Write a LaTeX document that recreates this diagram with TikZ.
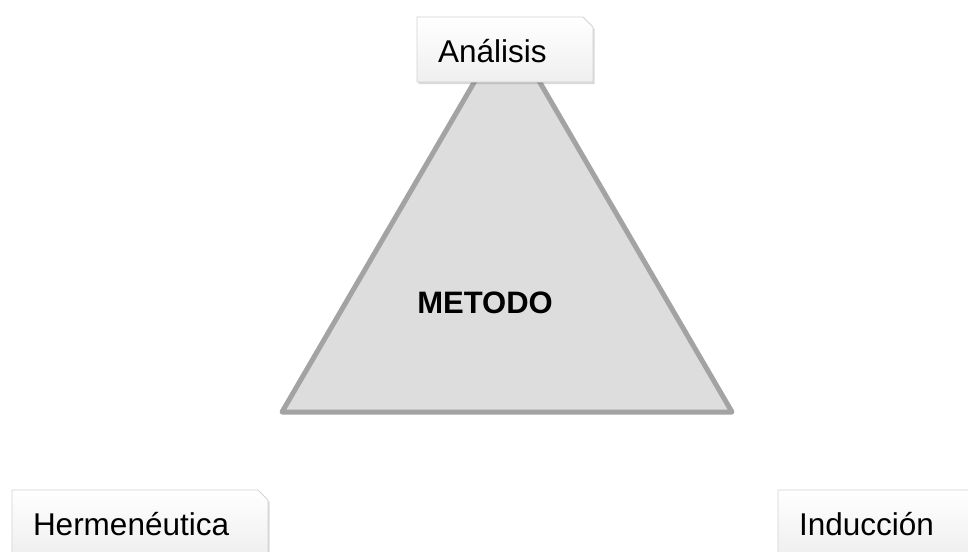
\documentclass[tikz,border=0pt]{standalone}
\usepackage{fontspec}
\setmainfont{Liberation Sans}
\usetikzlibrary{shapes.misc,shadows}
\definecolor{triFill}{HTML}{DDDDDD}
\definecolor{triLine}{HTML}{A3A3A3}
\definecolor{boxLine}{HTML}{D2D2D2}
\definecolor{boxBot}{HTML}{EFEFEF}
\tikzset{
  labelbox/.style={chamfered rectangle, chamfered rectangle corners=north east,
    chamfered rectangle xsep=5pt, chamfered rectangle ysep=5pt,
    draw=boxLine, line width=0.8pt, top color=white, bottom color=boxBot,
    drop shadow={shadow xshift=1.5pt, shadow yshift=-2pt, opacity=0.25, fill=black!60},
    minimum height=65pt, inner ysep=0pt, inner xsep=16pt, align=left,
    text height=26pt, text depth=0pt,
    font=\fontsize{31.5}{36}\selectfont},
  tri/.style={fill=triFill, draw=triLine, line width=5pt, line join=round},
  title/.style={font=\fontsize{31}{36}\selectfont\bfseries, inner sep=0pt, text height=22pt, text depth=0pt}
}
\begin{document}
\begin{tikzpicture}[x=1pt,y=1pt]
\useasboundingbox (0,-551) rectangle (968,0);
\clip (0,-551) rectangle (968,0);
\coordinate (apex) at (507,-26);
\coordinate (bl) at (282,-412);
\coordinate (br) at (732,-412);
\draw[tri] (apex) -- (bl) -- (br) -- cycle;
\node[title] (metodo) at (485,-302) {METODO};
\node[labelbox, text width=134pt] (analisis) at (505,-49.5) {Análisis};
\node[labelbox, text width=214pt] (herm) at (140,-522.5) {Hermenéutica};
\node[labelbox, text width=158pt] (ind) at (878,-522.5) {Inducción};
\end{tikzpicture}
\end{document}
